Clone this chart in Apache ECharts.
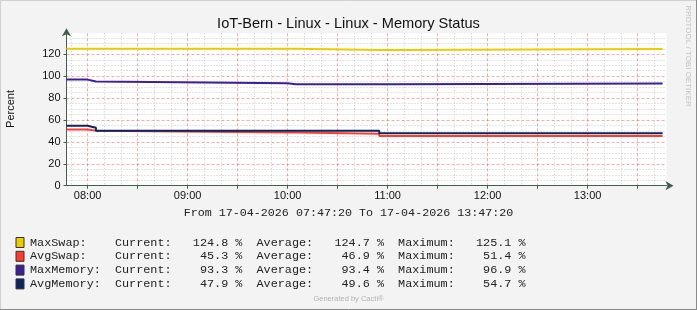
<!DOCTYPE html>
<html>
<head>
<meta charset="utf-8">
<script src="https://cdn.jsdelivr.net/npm/echarts@6/dist/echarts.min.js"></script>
<style>
html,body{margin:0;padding:0;background:#F3F3F3;}
#c{width:697px;height:310px;}
</style>
</head>
<body>
<div id="c"></div>
<script>
// ---- data ----
const stepTimes = ['07:47:20','08:00','08:05','10:00','10:05','10:55','11:05','13:45'];
const seriesNames = ['MaxSwap','AvgSwap','MaxMemory','AvgMemory'];
const maxSwap   = [125.0,125.0,125.0,125.0,123.9,123.9,124.8,124.8];
const avgSwap   = [51.4, 50.3, 48.5, 48.5, 47.4, 45.3, 45.3, 45.3];
const maxMemory = [96.9, 95.1, 93.6, 92.6, 92.6, 92.6, 93.3, 93.3];
const avgMemory = [54.7, 53.0, 50.3, 50.3, 50.3, 47.9, 47.9, 47.9];
const legendCurrent = ['124.8','45.3','93.3','47.9'];
const legendAverage = ['124.7','46.9','93.4','49.6'];
const legendMaximum = ['125.1','51.4','96.9','54.7'];
const xStart = '07:47:20', xEnd = '13:47:20';
const xLabelTicks = ['08:00','09:00','10:00','11:00','12:00','13:00'];
const xMajorTicks = ['08:00','08:30','09:00','09:30','10:00','10:30','11:00','11:30','12:00','12:30','13:00','13:30'];
const xMinorTicks = ['07:50','08:10','08:20','08:40','08:50','09:10','09:20','09:40','09:50','10:10','10:20','10:40','10:50','11:10','11:20','11:40','11:50','12:10','12:20','12:40','12:50','13:10','13:20','13:40'];
const yTicks = [0,20,40,60,80,100,120];
const yMinorTicks = [5,10,15,25,30,35,45,50,55,65,70,75,85,90,95,105,110,115,125,130,135];
const yMax = 139.2;
const colors = ['#EACC00','#FF3B30','#3F1F96','#0C2460'];

// ---- helpers ----
function toMin(s){const p=s.split(':').map(Number);return p[0]*60+p[1]+(p[2]||0)/60;}
function fmt(v){const h=Math.floor(v/60),m=Math.round(v-h*60);return String(h).padStart(2,'0')+':'+String(m).padStart(2,'0');}
const tMin = stepTimes.map(toMin);
const valueSets = [maxSwap,avgSwap,maxMemory,avgMemory];
function pad(s,n){while(s.length<n)s=' '+s;return s;}
function padR(s,n){while(s.length<n)s=s+' ';return s;}
// step (hold value until next time): duplicate each change point
function stepData(vals){
  const out=[];
  for(let k=0;k<tMin.length;k++){
    if(k>0) out.push([tMin[k],vals[k-1]]);
    out.push([tMin[k],vals[k]]);
  }
  return out;
}

const axisColor = '#3E5E50';
const sans = 'Liberation Sans';
const mono = 'Liberation Mono';

const chart = echarts.init(document.getElementById('c'));
chart.setOption({
  backgroundColor:'#F3F3F3',
  animation:false,
  title:[
    {text:'IoT-Bern - Linux - Linux - Memory Status',left:'center',top:11,
     textStyle:{fontFamily:sans,fontSize:14.6,fontWeight:'normal',color:'#111'}},
    {text:'From 17-04-2026 07:47:20 To 17-04-2026 13:47:20',left:'center',top:202,
     textStyle:{fontFamily:mono,fontSize:11.7,fontWeight:'normal',color:'#222'}},
    {text:'Generated by Cacti®',left:'center',top:290,
     textStyle:{fontFamily:sans,fontSize:7.5,fontWeight:'normal',color:'#b3b3b3'}}
  ],
  graphic:[
    {type:'rect',shape:{x:0.5,y:0.5,width:696,height:309},style:{fill:null,stroke:'#d0d0d0',lineWidth:1},silent:true,z:-1},
    {type:'line',shape:{x1:0,y1:309.5,x2:697,y2:309.5},style:{stroke:'#8a8a8a',lineWidth:1},silent:true},
    {type:'line',shape:{x1:696.5,y1:0,x2:696.5,y2:310},style:{stroke:'#8a8a8a',lineWidth:1},silent:true},
    {type:'text',x:11,y:109,rotation:Math.PI/2,
     style:{text:'Percent',font:'11px "Liberation Sans"',fill:'#111',align:'center',verticalAlign:'middle'}},
    {type:'text',x:688,y:56,rotation:-Math.PI/2,
     style:{text:'RRDTOOL / TOBI OETIKER',font:'8px "Liberation Sans"',fill:'#c4c4c4',align:'center',verticalAlign:'middle'}}
  ],
  grid:{left:66.5,top:33.3,width:600,height:152.4,show:true,backgroundColor:'#ffffff',borderWidth:0},
  legend:{
    orient:'vertical',left:15.5,top:236.5,padding:0,itemGap:1.8,itemWidth:8,itemHeight:10,icon:'rect',selectedMode:false,
    itemStyle:{borderColor:'#333',borderWidth:1},
    textStyle:{fontFamily:mono,fontSize:11.8,color:'#222',lineHeight:12,padding:[0,0,0,1]},
    data:seriesNames,
    formatter:function(name){
      const i=seriesNames.indexOf(name);
      return padR(name+':',12)+'Current:'+pad(legendCurrent[i],8)+' %  Average:'+pad(legendAverage[i],8)+' %  Maximum:'+pad(legendMaximum[i],8)+' %';
    }
  },
  xAxis:[
    {type:'value',min:toMin(xStart),max:toMin(xEnd),position:'bottom',
     axisLine:{show:false},axisLabel:{show:false},
     axisTick:{show:false,customValues:xMinorTicks.map(toMin)},
     splitLine:{show:true,lineStyle:{color:'#c8c8c8',type:[1,2],width:1}}},
    {type:'value',min:toMin(xStart),max:toMin(xEnd),position:'bottom',
     axisLine:{show:true,lineStyle:{color:axisColor,width:1},symbol:['none','arrow'],symbolSize:[7,8],symbolOffset:[0,7]},
     axisTick:{show:true,length:3,inside:false,lineStyle:{color:axisColor},customValues:xMajorTicks.map(toMin)},
     axisLabel:{show:true,customValues:xLabelTicks.map(toMin),formatter:fmt,fontFamily:sans,fontSize:11,color:'#111',margin:5},
     splitLine:{show:true,lineStyle:{color:'rgba(225,70,70,0.45)',type:[3,2],width:1}}}
  ],
  yAxis:[
    {type:'value',min:0,max:yMax,position:'left',
     axisLine:{show:false},axisLabel:{show:false},
     axisTick:{show:false,customValues:yMinorTicks},
     splitLine:{show:true,lineStyle:{color:'#c8c8c8',type:[1,2],width:1}}},
    {type:'value',min:0,max:yMax,position:'left',
     axisLine:{show:true,lineStyle:{color:axisColor,width:1},symbol:['none','arrow'],symbolSize:[7,8],symbolOffset:[0,5]},
     axisTick:{show:true,length:3,lineStyle:{color:axisColor},customValues:yTicks},
     axisLabel:{show:true,customValues:yTicks,fontFamily:sans,fontSize:11,color:'#111',margin:6},
     splitLine:{show:true,lineStyle:{color:'rgba(225,70,70,0.45)',type:[3,2],width:1}}}
  ],
  series:seriesNames.map(function(n,i){
    return {name:n,type:'line',xAxisIndex:1,yAxisIndex:1,showSymbol:false,symbol:'none',
      color:colors[i],lineStyle:{width:2,color:colors[i]},
      data:stepData(valueSets[i])};
  })
});
</script>
</body>
</html>
